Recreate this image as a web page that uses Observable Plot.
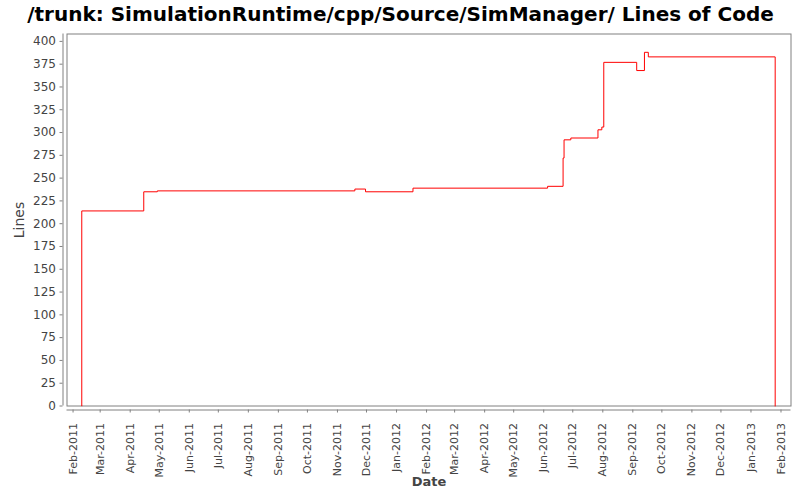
<!DOCTYPE html>
<html>
<head>
<meta charset="utf-8">
<script src="https://cdn.jsdelivr.net/npm/d3@7"></script>
<script src="https://cdn.jsdelivr.net/npm/@observablehq/plot@0.6"></script>
<style>
  html, body { margin: 0; padding: 0; background: #fff; }
  #chart svg { display: block; }
</style>
</head>
<body>
<div id="chart"></div>
<script>
// ---- data ----
const title = "/trunk: SimulationRuntime/cpp/Source/SimManager/ Lines of Code";
const xLabel = "Date";
const yLabel = "Lines";
const dates = ["2011-02-10","2011-02-10","2011-04-15","2011-04-29","2011-11-19","2011-11-30","2012-01-18",
               "2012-06-05","2012-06-21","2012-06-22","2012-06-29","2012-07-27","2012-07-31","2012-08-02",
               "2012-09-05","2012-09-13","2012-09-17","2013-01-26"];
const lines = [0,214,235,236,238,235,239,241,272,292,294,303,306,377,368,388,383,0];
const yTicks = [0,25,50,75,100,125,150,175,200,225,250,275,300,325,350,375,400];
const xTickMonths = ["2011-02-01","2011-03-01","2011-04-01","2011-05-01","2011-06-01","2011-07-01","2011-08-01",
                     "2011-09-01","2011-10-01","2011-11-01","2011-12-01","2012-01-01","2012-02-01","2012-03-01",
                     "2012-04-01","2012-05-01","2012-06-01","2012-07-01","2012-08-01","2012-09-01","2012-10-01",
                     "2012-11-01","2012-12-01","2013-01-01","2013-02-01"];
const xDomain = ["2011-01-25T18:00Z", "2013-02-11T08:00Z"];
const yDomain = [0, 408.1];

const data = dates.map((d, i) => ({date: new Date(d), value: lines[i]}));
const xTicks = xTickMonths.map(d => new Date(d));
const xd = xDomain.map(d => new Date(d));

const gray = "#808080";
const textColor = "#444444";

const chart = Plot.plot({
  width: 800,
  height: 500,
  marginLeft: 66.5,
  marginRight: 9.5,
  marginTop: 33.5,
  marginBottom: 94.5,
  style: {fontFamily: "'DejaVu Sans', sans-serif", fontSize: "12px", color: textColor, background: "#fff", overflow: "visible"},
  x: {type: "utc", domain: xd},
  y: {domain: yDomain},
  marks: [
    Plot.frame({stroke: gray, strokeWidth: 1}),
    Plot.ruleX([xd[0]], {dx: -4, stroke: gray}),
    Plot.ruleY([0], {dy: 4, stroke: gray}),
    Plot.axisY(yTicks, {anchor: "left", tickSize: 3, tickPadding: 4, dx: -4, stroke: gray, fill: textColor, label: null, fontSize: 12}),
    Plot.axisX(xTicks, {anchor: "bottom", tickSize: 3, tickPadding: 10, dy: 4, tickRotate: -90,
                        tickFormat: d3.utcFormat("%b-%Y"), stroke: gray, fill: textColor, label: null, fontSize: 11}),
    Plot.line(data, {x: "date", y: "value", curve: "step-after", stroke: "#ff0000", strokeWidth: 1}),
    Plot.text([title], {frameAnchor: "top", dx: -28.5, dy: -13, lineAnchor: "bottom", fontSize: 20, fontWeight: "bold", fill: "#000"}),
    Plot.text([yLabel], {frameAnchor: "left", textAnchor: "middle", dx: -47, rotate: -90, fontSize: 14, fill: textColor}),
    Plot.text([xLabel], {frameAnchor: "bottom", textAnchor: "middle", dy: 80, fontSize: 13, fontWeight: "bold", fill: textColor})
  ]
});
document.getElementById("chart").appendChild(chart);
</script>
</body>
</html>
